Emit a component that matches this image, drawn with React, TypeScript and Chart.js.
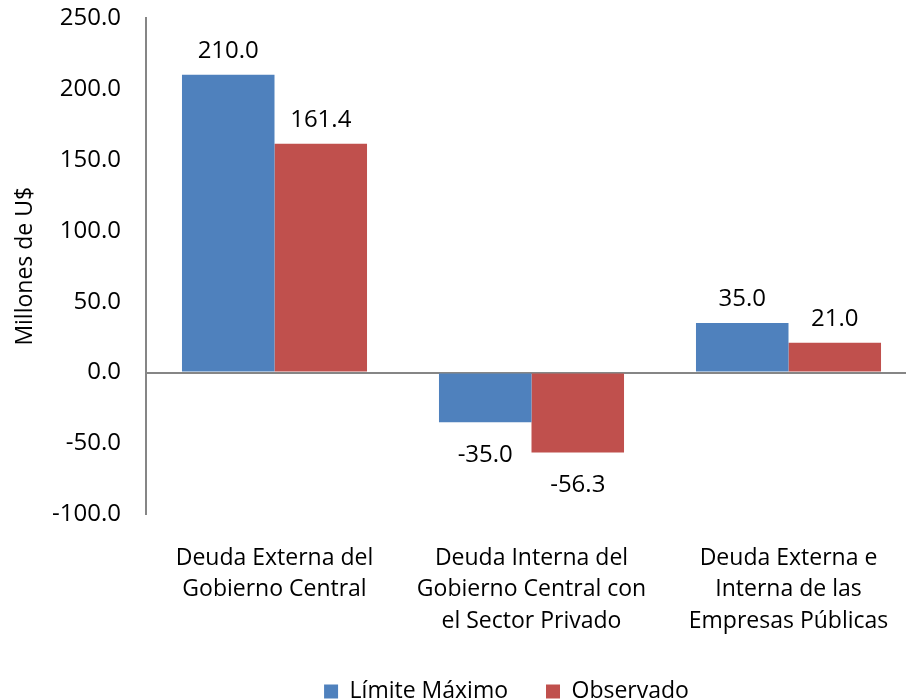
import React, { useEffect, useRef } from "react";
import { Chart, registerables } from "chart.js";

Chart.register(...registerables);

const categories: string[][] = [
  ["Deuda Externa del", "Gobierno Central"],
  ["Deuda Interna del", "Gobierno Central con", "el Sector Privado"],
  ["Deuda Externa e", "Interna de las", "Empresas Públicas"],
];
const limiteMaximo: number[] = [210.0, -35.0, 35.0];
const observado: number[] = [161.4, -56.3, 21.0];
const seriesNames = ["Límite Máximo", "Observado"];
const yMin = -100;
const yMax = 250;
const yStep = 50;
const yTitle = "Millones de U$";

const FONT = "'Open Sans', sans-serif";
const AXIS_GRAY = "#868686";

const dataLabels = {
  id: "dataLabels",
  afterDatasetsDraw(chart: any) {
    const { ctx } = chart;
    ctx.save();
    ctx.font = `24px ${FONT}`;
    ctx.fillStyle = "#000";
    ctx.textAlign = "center";
    ctx.textBaseline = "middle";
    chart.data.datasets.forEach((ds: any, di: number) => {
      const meta = chart.getDatasetMeta(di);
      meta.data.forEach((el: any, i: number) => {
        const v = ds.data[i] as number;
        const y = v >= 0 ? el.y - 24 : el.y + 33;
        ctx.fillText(v.toFixed(1), el.x, y);
      });
    });
    ctx.restore();
  },
};

const legendShift = {
  id: "legendShift",
  afterLayout(chart: any) {
    const lg = chart.legend;
    if (lg) {
      lg.left += 48;
      lg.right += 48;
    }
  },
};

export default function App() {
  const ref = useRef<HTMLCanvasElement | null>(null);
  useEffect(() => {
    if (!ref.current) return;
    const chart = new Chart(ref.current, {
      type: "bar",
      data: {
        labels: categories,
        datasets: [
          {
            label: seriesNames[0],
            data: limiteMaximo,
            backgroundColor: "#4F81BD",
            categoryPercentage: 0.72,
            barPercentage: 1,
          },
          {
            label: seriesNames[1],
            data: observado,
            backgroundColor: "#C0504D",
            categoryPercentage: 0.72,
            barPercentage: 1,
          },
        ],
      },
      options: {
        animation: false,
        responsive: false,
        layout: { padding: { top: 18, right: 3, left: 0, bottom: 7 } },
        plugins: {
          tooltip: { enabled: false },
          legend: {
            position: "bottom",
            labels: {
              boxWidth: 14,
              boxHeight: 14,
              padding: 38,
              color: "#000",
              font: { family: FONT, size: 23 },
            },
          },
        },
        scales: {
          x: {
            afterFit: (s: any) => {
              s.height = s.height - 23;
            },
            grid: { display: false, drawTicks: false },
            border: { display: false },
            ticks: {
              color: "#000",
              padding: 28,
              maxRotation: 0,
              autoSkip: false,
              font: { family: FONT, size: 23, lineHeight: 1.37 },
            },
          },
          y: {
            min: yMin,
            max: yMax,
            afterFit: (s: any) => {
              s.width = 146;
              s.paddingTop = 0;
              s.paddingBottom = 0;
            },
            grid: {
              drawTicks: false,
              lineWidth: 2,
              color: (c: any) => (c.tick && c.tick.value === 0 ? AXIS_GRAY : "rgba(0,0,0,0)"),
            },
            border: { display: true, color: AXIS_GRAY, width: 2 },
            ticks: {
              stepSize: yStep,
              color: "#000",
              padding: 25,
              font: { family: FONT, size: 24 },
              callback: (v: any) => Number(v).toFixed(1),
            },
            title: {
              display: true,
              text: yTitle,
              color: "#000",
              font: { family: FONT, size: 23 },
              padding: { top: 12, bottom: 0 },
            },
          },
        },
      },
      plugins: [dataLabels, legendShift],
    });
    return () => chart.destroy();
  }, []);
  return (
    <div style={{ position: "absolute", left: 0, top: 0, width: 906, height: 700, overflow: "hidden", background: "#fff" }}>
      <canvas ref={ref} width={920} height={720} style={{ display: "block" }} />
    </div>
  );
}
